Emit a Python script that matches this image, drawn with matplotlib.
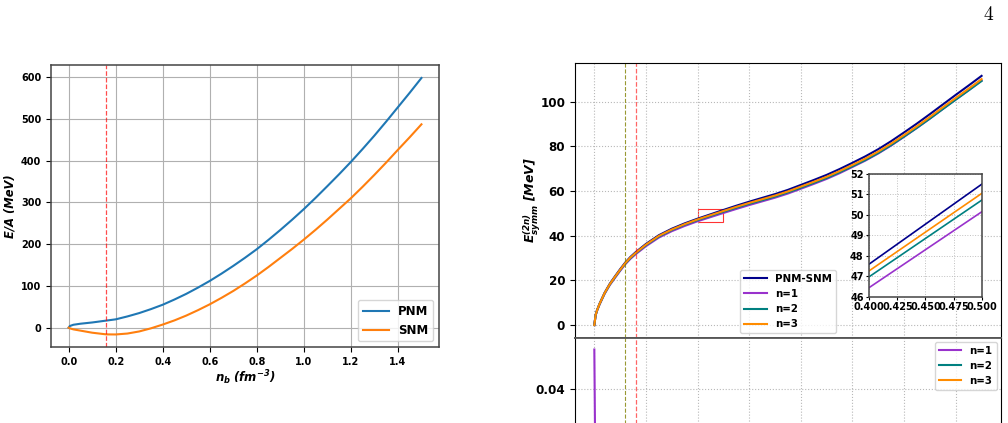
"""Nuclear matter energies (left) and symmetry energy with inset (right)."""
import matplotlib
matplotlib.use("Agg")
import matplotlib.pyplot as plt
from matplotlib.patches import Rectangle

plt.rcParams["font.family"] = ["DejaVu Sans"]
plt.rcParams["mathtext.fontset"] = "dejavusans"

# ---- left panel: E/A of pure neutron matter and symmetric nuclear matter
nb_left = [0.0, 0.005, 0.02, 0.05, 0.1, 0.16, 0.2, 0.25, 0.3, 0.35, 0.4, 0.45,
           0.5, 0.55, 0.6, 0.65, 0.7, 0.75, 0.8, 0.85, 0.9, 0.95, 1.0, 1.05,
           1.1, 1.15, 1.2, 1.25, 1.3, 1.35, 1.4, 1.45, 1.5]
pnm = [0.0, 4.0, 7.0, 9.5, 12.5, 17.0, 20.0, 27.0, 35.0, 44.5, 55.0, 67.5,
       81.0, 96.0, 112.0, 129.5, 148.0, 167.5, 188.0, 210.5, 234.0, 258.5,
       284.0, 311.0, 339.0, 367.5, 397.0, 428.0, 460.0, 493.5, 528.0, 562.5,
       598.0]
snm = [0.0, -1.5, -4.0, -7.0, -12.0, -16.0, -16.2, -14.0, -9.0, -1.5, 7.5,
       17.5, 29.0, 42.0, 56.0, 71.5, 88.0, 106.0, 125.0, 145.5, 167.0, 188.5,
       211.0, 234.5, 259.0, 284.5, 310.0, 337.5, 366.0, 395.5, 426.0, 456.0,
       487.0]

# ---- right panel: symmetry energy from PNM-SNM and the n-th order expansions
nb = [0.0, 0.005, 0.01, 0.02, 0.04, 0.06, 0.08, 0.1, 0.12, 0.14, 0.16, 0.2,
      0.25, 0.3, 0.35, 0.4, 0.45, 0.5, 0.55, 0.6, 0.65, 0.7, 0.75, 0.8, 0.85,
      0.9, 0.95, 1.0, 1.05, 1.1, 1.15, 1.2, 1.25, 1.3, 1.35, 1.4, 1.45, 1.5]
esym_diff = [0.0, 4.5, 6.5, 9.5, 14.5, 18.5, 21.8, 25.0, 28.0, 30.5, 32.6,
             36.3, 40.2, 43.1, 45.5, 47.6, 49.55, 51.5, 53.4, 55.2, 56.9,
             58.6, 60.5, 62.7, 64.9, 67.2, 69.8, 72.6, 75.5, 78.7, 82.3,
             86.2, 90.2, 94.4, 98.7, 103.0, 107.2, 111.5]
esym_n1 = [0.0, 4.3, 6.2, 9.1, 14.0, 17.9, 21.1, 24.25, 27.2, 29.65, 31.7,
           35.3, 39.15, 42.0, 44.35, 46.45, 48.3, 50.15, 51.95, 53.7, 55.35,
           57.0, 58.85, 61.0, 63.15, 65.4, 67.95, 70.75, 73.6, 76.8, 80.35,
           84.25, 88.25, 92.4, 96.7, 100.95, 105.1, 109.4]
esym_n2 = [0.0, 4.4, 6.35, 9.3, 14.2, 18.15, 21.4, 24.55, 27.55, 30.0, 32.1,
           35.75, 39.6, 42.5, 44.9, 46.98, 48.85, 50.72, 52.5, 54.25, 55.85,
           57.5, 59.35, 61.45, 63.6, 65.8, 68.35, 71.05, 73.85, 77.0, 80.55,
           84.35, 88.3, 92.4, 96.65, 100.85, 105.0, 109.2]
esym_n3 = [0.0, 4.45, 6.4, 9.4, 14.35, 18.3, 21.6, 24.75, 27.75, 30.25, 32.3,
           36.0, 39.9, 42.75, 45.15, 47.27, 49.16, 51.05, 52.9, 54.65, 56.3,
           57.95, 59.8, 61.95, 64.1, 66.35, 68.9, 71.65, 74.5, 77.65, 81.2,
           85.05, 89.0, 93.15, 97.45, 101.65, 105.8, 110.05]

# ---- lower right panel (mostly cut off): relative deviation
nb_rel = [0.0, 0.003, 0.01, 0.05, 0.2, 0.5, 1.0, 1.5]
rel_n1 = [0.0515, 0.025, 0.02, 0.015, 0.012, 0.011, 0.010, 0.010]
rel_n2 = [0.02, 0.012, 0.01, 0.008, 0.006, 0.006, 0.005, 0.005]
rel_n3 = [0.01, 0.006, 0.005, 0.004, 0.003, 0.003, 0.003, 0.003]

N_SAT = 0.16
N_OLIVE = 0.12

C_DIFF, C_N1, C_N2, C_N3 = "#00008b", "#9932cc", "#008080", "#ff8c00"

fig = plt.figure(figsize=(10.08, 4.23), dpi=100)
fig.text(0.981, 0.965, "4", family="cmr10", fontsize=14, ha="center", va="center")

# ---------------- left
ax = fig.add_axes([0.0506, 0.179, 0.385, 0.667])
ax.plot(nb_left, pnm, color="#1f77b4", lw=1.5, label="PNM")
ax.plot(nb_left, snm, color="#ff7f0e", lw=1.5, label="SNM")
ax.axvline(N_SAT, color="red", ls="--", lw=0.9, alpha=0.7)
ax.grid(True, color="#b0b0b0", lw=0.8)
ax.set_xticks([0.0, 0.2, 0.4, 0.6, 0.8, 1.0, 1.2, 1.4])
ax.set_yticks([0, 100, 200, 300, 400, 500, 600])
ax.tick_params(labelsize=7)
for lab in ax.get_xticklabels() + ax.get_yticklabels():
    lab.set_fontweight("bold")
for sp in ax.spines.values():
    sp.set_color("#444444")
    sp.set_linewidth(1.1)
ax.set_xlabel(r"$\mathbfit{n_b}$ $\mathbfit{(fm^{-3})}$", fontsize=8.5, labelpad=1)
ax.set_ylabel("E/A (MeV)", fontsize=8.3, fontweight="bold", style="italic", labelpad=3)
ax.legend(loc="lower right", prop={"weight": "bold", "size": 8.5}, handlelength=2.2)

# ---------------- right top
ax2 = fig.add_axes([0.5704, 0.2021, 0.4226, 0.648])
ax2.plot(nb, esym_diff, color=C_DIFF, lw=1.5, label="PNM-SNM")
ax2.plot(nb, esym_n1, color=C_N1, lw=1.5, label="n=1")
ax2.plot(nb, esym_n2, color=C_N2, lw=1.5, label="n=2")
ax2.plot(nb, esym_n3, color=C_N3, lw=1.5, label="n=3")
ax2.axvline(N_OLIVE, color="olive", ls="--", lw=0.8, alpha=0.8)
ax2.axvline(N_SAT, color="red", ls="--", lw=0.9, alpha=0.6)
ax2.add_patch(Rectangle((0.4, 46), 0.1, 6, fill=False, edgecolor="red", lw=0.8, alpha=0.8))
ax2.grid(True, color="#b8b8b8", ls=":", lw=0.8)
ax2.set_xticks([0.0, 0.2, 0.4, 0.6, 0.8, 1.0, 1.2, 1.4])
ax2.set_yticks([0, 20, 40, 60, 80, 100])
ax2.tick_params(axis="x", labelbottom=False, length=0)
ax2.tick_params(axis="y", labelsize=8.6)
for lab in ax2.get_yticklabels():
    lab.set_fontweight("bold")
ax2.spines["bottom"].set_color("#555555")
ax2.spines["bottom"].set_linewidth(1.3)
ax2.set_ylabel(r"$\mathbfit{E^{(2n)}_{symm}}$ $\mathbfit{[MeV]}$", fontsize=9, labelpad=-2)
ax2.legend(loc="lower center", prop={"weight": "bold", "size": 7.4},
           handlelength=2.2, borderaxespad=0.4)

# inset zoom around the red box
axi = fig.add_axes([0.8624, 0.2986, 0.1115, 0.290])
axi.plot(nb, esym_diff, color=C_DIFF, lw=1.2)
axi.plot(nb, esym_n1, color=C_N1, lw=1.2)
axi.plot(nb, esym_n2, color=C_N2, lw=1.2)
axi.plot(nb, esym_n3, color=C_N3, lw=1.2)
axi.set_xlim(0.4, 0.5)
axi.set_ylim(46, 52)
axi.set_xticks([0.4, 0.425, 0.45, 0.475, 0.5])
axi.set_xticklabels(["0.400", "0.425", "0.450", "0.475", "0.500"])
axi.set_yticks([46, 47, 48, 49, 50, 51, 52])
axi.grid(True, color="#c0c0c0", ls=":", lw=0.7)
axi.tick_params(labelsize=7, length=2.5, pad=1.5)
for lab in axi.get_xticklabels() + axi.get_yticklabels():
    lab.set_fontweight("bold")
for sp in axi.spines.values():
    sp.set_color("#444444")
    sp.set_linewidth(1.1)

# ---------------- right bottom (runs off the page)
ax3 = fig.add_axes([0.5704, -0.2837, 0.4226, 0.4858], sharex=ax2)
ax3.plot(nb_rel, rel_n1, color=C_N1, lw=1.5, label="n=1")
ax3.plot(nb_rel, rel_n2, color=C_N2, lw=1.5, label="n=2")
ax3.plot(nb_rel, rel_n3, color=C_N3, lw=1.5, label="n=3")
ax3.axvline(N_OLIVE, color="olive", ls="--", lw=0.8, alpha=0.8)
ax3.axvline(N_SAT, color="red", ls="--", lw=0.9, alpha=0.6)
ax3.set_ylim(-0.005, 0.055)
ax3.set_yticks([0.04])
ax3.grid(True, color="#b8b8b8", ls=":", lw=0.8)
ax3.tick_params(axis="y", labelsize=8.6)
ax3.tick_params(axis="x", labelbottom=False)
for lab in ax3.get_yticklabels():
    lab.set_fontweight("bold")
ax3.spines["top"].set_color("#555555")
ax3.spines["top"].set_linewidth(1.3)
ax3.legend(loc="upper right", prop={"weight": "bold", "size": 7.4},
           handlelength=2.2, borderaxespad=0.4)

ax2.set_xlim(-0.075, 1.575)

fig.savefig("out.png", dpi=100)
